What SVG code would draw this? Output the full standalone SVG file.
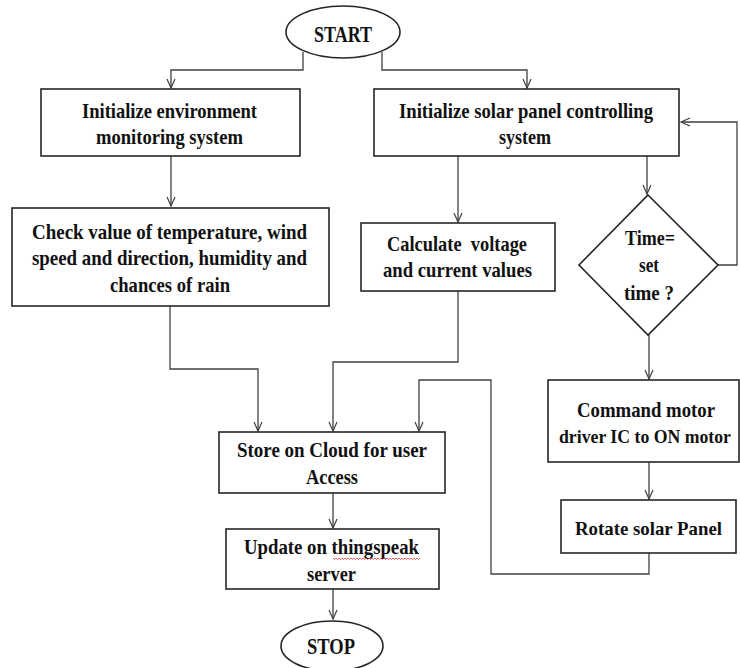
<svg xmlns="http://www.w3.org/2000/svg" width="740" height="668" viewBox="0 0 740 668">
<style>
.box{fill:#fff;stroke:#262626;stroke-width:1.6}
.c{fill:none;stroke:#404040;stroke-width:1.3}
.t{font-family:"Liberation Serif","Times New Roman",serif;font-weight:bold;font-size:21.5px;fill:#111;text-anchor:middle}
.big{font-size:23.5px}
.sm{font-size:19px}
.xs{font-size:18px}
</style>
<defs>
<marker id="arr" markerUnits="userSpaceOnUse" markerWidth="12" markerHeight="12" refX="10" refY="5" orient="auto">
<path d="M1,1 L10,5 L1,9" fill="none" stroke="#404040" stroke-width="1.2"/>
</marker>
</defs>
<rect width="740" height="668" fill="#fff"/>
<g id="connectors">
<path class="c" d="M303,52 V70 H171 V88" marker-end="url(#arr)"/>
<path class="c" d="M382,52 V70 H527 V88" marker-end="url(#arr)"/>
<path class="c" d="M171,156 V206" marker-end="url(#arr)"/>
<path class="c" d="M458,156 V222" marker-end="url(#arr)"/>
<path class="c" d="M647,156 V194" marker-end="url(#arr)"/>
<path class="c" d="M718,265 H737 V122 H681" marker-end="url(#arr)"/>
<path class="c" d="M649,335 V379" marker-end="url(#arr)"/>
<path class="c" d="M649,462 V499" marker-end="url(#arr)"/>
<path class="c" d="M649,553 V574 H491 V380 H419 V431" marker-end="url(#arr)"/>
<path class="c" d="M170,306 V369 H258 V431" marker-end="url(#arr)"/>
<path class="c" d="M458,291 V362 H333 V431" marker-end="url(#arr)"/>
<path class="c" d="M333,493 V528" marker-end="url(#arr)"/>
<path class="c" d="M333,589 V619" marker-end="url(#arr)"/>
</g>
<g id="start">
<ellipse class="box" cx="343" cy="32" rx="57" ry="26"/>
<text class="t big" x="343" y="42" textLength="58" lengthAdjust="spacingAndGlyphs">START</text>
</g>
<g id="init-env">
<rect class="box" x="41" y="89" width="259" height="67"/>
<text class="t" x="169.5" y="118" textLength="175" lengthAdjust="spacingAndGlyphs">Initialize environment</text>
<text class="t" x="169.5" y="144" textLength="147" lengthAdjust="spacingAndGlyphs">monitoring system</text>
</g>
<g id="init-solar">
<rect class="box" x="374" y="89" width="305" height="67"/>
<text class="t" x="526" y="118" textLength="254" lengthAdjust="spacingAndGlyphs">Initialize solar panel controlling</text>
<text class="t" x="525" y="144" textLength="52" lengthAdjust="spacingAndGlyphs">system</text>
</g>
<g id="check">
<rect class="box" x="12" y="208" width="317" height="98"/>
<text class="t" x="169.5" y="239" textLength="275" lengthAdjust="spacingAndGlyphs">Check value of temperature, wind</text>
<text class="t" x="169.5" y="265" textLength="275" lengthAdjust="spacingAndGlyphs">speed and direction, humidity and</text>
<text class="t" x="170" y="292" textLength="120" lengthAdjust="spacingAndGlyphs">chances of rain</text>
</g>
<g id="calc">
<rect class="box" x="361" y="223" width="194" height="68"/>
<text class="t" x="457" y="251" textLength="140" lengthAdjust="spacingAndGlyphs" xml:space="preserve">Calculate  voltage</text>
<text class="t" x="457.5" y="277" textLength="149" lengthAdjust="spacingAndGlyphs">and current values</text>
</g>
<g id="decision">
<polygon class="box" points="648,195 718,265 648,335 579,265"/>
<text class="t" x="650" y="245" textLength="50" lengthAdjust="spacingAndGlyphs">Time=</text>
<text class="t" x="649" y="272" textLength="20" lengthAdjust="spacingAndGlyphs">set</text>
<text class="t" x="649" y="300" textLength="50" lengthAdjust="spacingAndGlyphs">time ?</text>
</g>
<g id="command">
<rect class="box" x="548" y="380" width="191" height="82"/>
<text class="t" x="646" y="417" textLength="138" lengthAdjust="spacingAndGlyphs">Command motor</text>
<text class="t xs" x="645" y="443" textLength="172" lengthAdjust="spacingAndGlyphs">driver IC to ON motor</text>
</g>
<g id="rotate">
<rect class="box" x="561" y="500" width="175" height="53"/>
<text class="t sm" x="648.5" y="535" textLength="147" lengthAdjust="spacingAndGlyphs">Rotate solar Panel</text>
</g>
<g id="store">
<rect class="box" x="219" y="432" width="226" height="61"/>
<text class="t" x="332" y="457" textLength="190" lengthAdjust="spacingAndGlyphs">Store on Cloud for user</text>
<text class="t" x="332" y="484" textLength="52" lengthAdjust="spacingAndGlyphs">Access</text>
</g>
<g id="update">
<rect class="box" x="226" y="529" width="213" height="60"/>
<text class="t" x="331.5" y="554" textLength="175" lengthAdjust="spacingAndGlyphs">Update on thingspeak</text>
<text class="t" x="331.5" y="581" textLength="49" lengthAdjust="spacingAndGlyphs">server</text>
<path d="M333,558 l1.5,1.5 l1.5,-1.5 l1.5,1.5 l1.5,-1.5 l1.5,1.5 l1.5,-1.5 l1.5,1.5 l1.5,-1.5 l1.5,1.5 l1.5,-1.5 l1.5,1.5 l1.5,-1.5 l1.5,1.5 l1.5,-1.5 l1.5,1.5 l1.5,-1.5 l1.5,1.5 l1.5,-1.5 l1.5,1.5 l1.5,-1.5 l1.5,1.5 l1.5,-1.5 l1.5,1.5 l1.5,-1.5 l1.5,1.5 l1.5,-1.5 l1.5,1.5 l1.5,-1.5 l1.5,1.5 l1.5,-1.5 l1.5,1.5 l1.5,-1.5 l1.5,1.5 l1.5,-1.5 l1.5,1.5 l1.5,-1.5 l1.5,1.5 l1.5,-1.5 l1.5,1.5 l1.5,-1.5 l1.5,1.5 l1.5,-1.5 l1.5,1.5 l1.5,-1.5 l1.5,1.5 l1.5,-1.5 l1.5,1.5 l1.5,-1.5 l1.5,1.5 l1.5,-1.5 l1.5,1.5 l1.5,-1.5 l1.5,1.5 l1.5,-1.5 l1.5,1.5 l1.5,-1.5 l1.5,1.5 l1.5,-1.5" fill="none" stroke="#e03030" stroke-width="0.8"/>
</g>
<g id="stop">
<ellipse class="box" cx="332" cy="646" rx="51" ry="25"/>
<text class="t big" x="331" y="654" textLength="48" lengthAdjust="spacingAndGlyphs">STOP</text>
</g>
</svg>
